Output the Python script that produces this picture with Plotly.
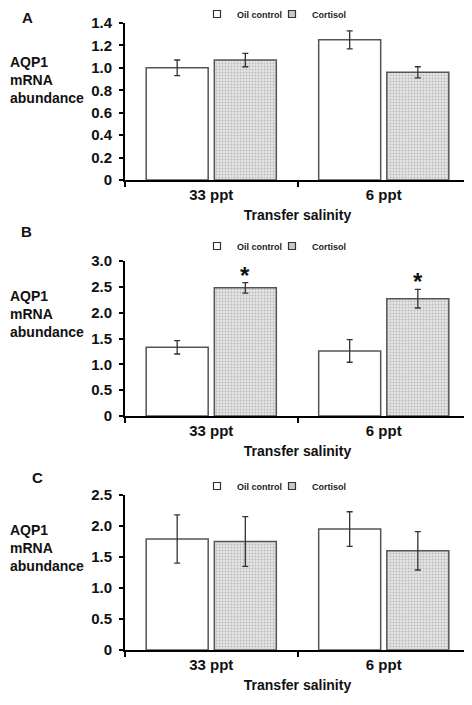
import plotly.graph_objects as go

# ---------------- data ----------------
categories = ["33 ppt", "6 ppt"]
series_names = ["Oil control", "Cortisol"]

# Panel A
a_oil = [1.00, 1.25]
a_oil_err = [0.07, 0.08]
a_cort = [1.07, 0.96]
a_cort_err = [0.06, 0.05]

# Panel B
b_oil = [1.33, 1.26]
b_oil_err = [0.13, 0.22]
b_cort = [2.48, 2.27]
b_cort_err = [0.10, 0.18]
b_cort_sig = [True, True]

# Panel C
c_oil = [1.79, 1.95]
c_oil_err = [0.39, 0.28]
c_cort = [1.75, 1.60]
c_cort_err = [0.40, 0.31]

a_ticks = [0, 0.2, 0.4, 0.6, 0.8, 1.0, 1.2, 1.4]
a_ticktext = ["0", "0.2", "0.4", "0.6", "0.8", "1.0", "1.2", "1.4"]
b_ticks = [0, 0.5, 1.0, 1.5, 2.0, 2.5, 3.0]
b_ticktext = ["0", "0.5", "1.0", "1.5", "2.0", "2.5", "3.0"]
c_ticks = [0, 0.5, 1.0, 1.5, 2.0, 2.5]
c_ticktext = ["0", "0.5", "1.0", "1.5", "2.0", "2.5"]

panel_letters = ["A", "B", "C"]
y_title = "AQP1<br>mRNA<br>abundance"
x_title = "Transfer salinity"

# ---------------- styling ----------------
PAGE_W, PAGE_H = 472, 705
OFF = 8  # default body margin of the html page
W, H = PAGE_W - OFF, PAGE_H - OFF
FONT = "Liberation Sans, Arial, sans-serif"
EDGE = "#555555"
ERR = "#333333"


def px_(x):
    return (x - OFF) / W


def py(y):
    return 1 - (y - OFF) / H


x_dom = [px_(125), px_(470)]
panels = [
    dict(oil=a_oil, oe=a_oil_err, cort=a_cort, ce=a_cort_err, ticks=a_ticks, tt=a_ticktext,
         top=23, bot=180, legy=14, ytc=80, letter=(27, None), sig=None),
    dict(oil=b_oil, oe=b_oil_err, cort=b_cort, ce=b_cort_err, ticks=b_ticks, tt=b_ticktext,
         top=261, bot=416, legy=246, ytc=314, letter=(26, 232), sig=b_cort_sig),
    dict(oil=c_oil, oe=c_oil_err, cort=c_cort, ce=c_cort_err, ticks=c_ticks, tt=c_ticktext,
         top=495, bot=650, legy=486, ytc=548, letter=(37, 477), sig=None),
]

fig = go.Figure()
annotations = []
layout = {}

for i, p in enumerate(panels):
    n = i + 1
    xa = "x" if n == 1 else f"x{n}"
    ya = "y" if n == 1 else f"y{n}"
    leg = "legend" if n == 1 else f"legend{n}"

    fig.add_trace(go.Bar(
        x=categories, y=p["oil"], name=series_names[0], xaxis=xa, yaxis=ya,
        marker=dict(color="white", line=dict(color=EDGE, width=1.5)),
        error_y=dict(type="data", array=p["oe"], color=ERR, thickness=1.3, width=3),
        showlegend=False, offsetgroup="oil",
    ))
    fig.add_trace(go.Bar(
        x=categories, y=p["cort"], name=series_names[1], xaxis=xa, yaxis=ya,
        marker=dict(color="#e4e4e4", line=dict(color=EDGE, width=1.5),
                    pattern=dict(shape=".", fgcolor="#8e8e8e", bgcolor="#e4e4e4",
                                 size=3, solidity=0.3)),
        error_y=dict(type="data", array=p["ce"], color=ERR, thickness=1.3, width=3),
        showlegend=False, offsetgroup="cort",
    ))
    # legend entries (small square swatches)
    fig.add_trace(go.Scatter(
        x=[None], y=[None], mode="markers", name=series_names[0], xaxis=xa, yaxis=ya,
        marker=dict(symbol="square", size=7, color="white", line=dict(color="#333", width=1.2)),
        legend=leg,
    ))
    fig.add_trace(go.Scatter(
        x=[None], y=[None], mode="markers", name=series_names[1], xaxis=xa, yaxis=ya,
        marker=dict(symbol="square", size=7, color="#c8c8c8", line=dict(color="#333", width=1.2)),
        legend=leg,
    ))

    key_x = "xaxis" if n == 1 else f"xaxis{n}"
    key_y = "yaxis" if n == 1 else f"yaxis{n}"
    layout[key_x] = dict(
        domain=x_dom, anchor=ya, type="category", automargin=False,
        showline=True, linecolor="black", linewidth=2,
        ticks="outside", tickson="boundaries", ticklen=5, tickwidth=2, tickcolor="black",
        tickfont=dict(family=FONT, size=15, color="#111", weight="bold"),
        title=dict(text=x_title, standoff=8,
                   font=dict(family=FONT, size=14, color="#111", weight="bold")),
        showgrid=False, zeroline=False, fixedrange=True,
    )
    layout[key_y] = dict(
        domain=[py(p["bot"]), py(p["top"])], anchor=xa, automargin=False,
        range=[0, p["ticks"][-1]], tickvals=p["ticks"], ticktext=p["tt"],
        showline=True, linecolor="black", linewidth=2,
        ticks="outside", ticklen=4, tickwidth=2, tickcolor="black", ticklabelstandoff=4,
        tickfont=dict(family=FONT, size=15, color="#111", weight="bold"),
        showgrid=False, zeroline=False, fixedrange=True,
    )
    layout[leg] = dict(
        orientation="h", x=px_(197), xanchor="left", y=py(p["legy"]), yanchor="middle",
        font=dict(family=FONT, size=9, color="#222", weight="bold"),
        bgcolor="rgba(0,0,0,0)", entrywidth=30, entrywidthmode="pixels",
        itemclick=False, itemdoubleclick=False,
    )

    # y-axis title
    annotations.append(dict(
        text=y_title, x=px_(8), y=py(p["ytc"]), xref="paper", yref="paper",
        xanchor="left", yanchor="middle", align="left", showarrow=False,
        font=dict(family=FONT, size=14, color="#111", weight="bold"),
    ))
    # panel letter
    lx, ly = p["letter"]
    if ly is None:
        annotations.append(dict(
            text=panel_letters[i], x=px_(lx), y=1, xref="paper", yref="paper",
            xanchor="center", yanchor="top", showarrow=False, borderpad=0,
            font=dict(family=FONT, size=15, color="#111", weight="bold"),
        ))
    else:
        annotations.append(dict(
            text=panel_letters[i], x=px_(lx), y=py(ly), xref="paper", yref="paper",
            xanchor="center", yanchor="middle", showarrow=False,
            font=dict(family=FONT, size=15, color="#111", weight="bold"),
        ))
    # significance asterisks above cortisol bars
    if p["sig"]:
        for cat, v, e, s in zip(categories, p["cort"], p["ce"], p["sig"]):
            if s:
                annotations.append(dict(
                    text="*", x=cat, y=v + e, xref=xa, yref=ya,
                    xanchor="center", yanchor="bottom", xshift=34, yshift=-8,
                    showarrow=False,
                    font=dict(family=FONT, size=24, color="#111", weight="bold"),
                ))

fig.update_layout(
    width=W, height=H,
    margin=dict(l=0, r=0, t=0, b=0, autoexpand=False),
    paper_bgcolor="white", plot_bgcolor="white",
    barmode="group", bargap=0.21, bargroupgap=0.09,
    annotations=annotations,
    **layout,
)

fig.write_html("out.html")
